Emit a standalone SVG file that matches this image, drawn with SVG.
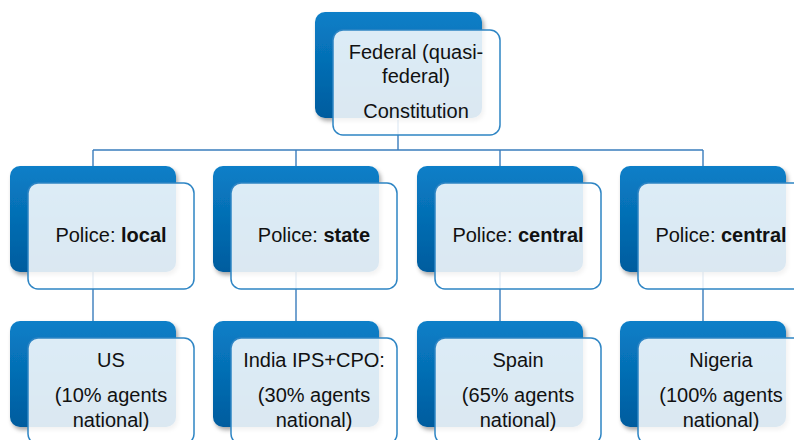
<svg xmlns="http://www.w3.org/2000/svg" width="794" height="440" viewBox="0 0 794 440">
<defs>
<linearGradient id="dg" x1="0" y1="0" x2="0" y2="1">
<stop offset="0" stop-color="#0a7fc8"/>
<stop offset="1" stop-color="#005c9e"/>
</linearGradient>
<filter id="sh" x="-10%" y="-10%" width="130%" height="130%">
<feDropShadow dx="2" dy="3" stdDeviation="2" flood-color="#000" flood-opacity="0.35"/>
</filter>
</defs>
<style>
.dark{fill:url(#dg);filter:url(#sh)}
.light{fill:#ffffff;fill-opacity:0.86;stroke:#2e85c4;stroke-width:1.5}
.conn{fill:none;stroke:#3a7dbd;stroke-width:1.4}
text{font-family:"Liberation Sans",Arial,sans-serif;font-size:20px;fill:#111;text-anchor:middle}
.b{font-weight:bold}
</style>
<rect width="794" height="440" fill="#fff"/>
<g id="connectors">
<path class="conn" d="M398,120 V150 M93,150 H703 M93,150 V321 M296,150 V321 M500,150 V321 M703,150 V321"/>
</g>
<g id="n-federal">
<rect class="dark" x="315" y="12" width="167" height="106" rx="10"/>
<rect class="light" x="333" y="30" width="167" height="105" rx="10"/>
<text x="416" y="59">Federal (quasi-</text>
<text x="416" y="83">federal)</text>
<text x="416" y="118">Constitution</text>
</g>
<g id="n-local">
<rect class="dark" x="10" y="166" width="166" height="106" rx="10"/>
<rect class="light" x="28" y="183" width="166" height="106" rx="10"/>
<text x="111" y="242">Police: <tspan class="b">local</tspan></text>
</g>
<g id="n-state">
<rect class="dark" x="213" y="166" width="166" height="106" rx="10"/>
<rect class="light" x="231" y="183" width="166" height="106" rx="10"/>
<text x="314" y="242">Police: <tspan class="b">state</tspan></text>
</g>
<g id="n-central1">
<rect class="dark" x="417" y="166" width="166" height="106" rx="10"/>
<rect class="light" x="435" y="183" width="166" height="106" rx="10"/>
<text x="518" y="242">Police: <tspan class="b">central</tspan></text>
</g>
<g id="n-central2">
<rect class="dark" x="620" y="166" width="166" height="106" rx="10"/>
<rect class="light" x="638" y="183" width="166" height="106" rx="10"/>
<text x="721" y="242">Police: <tspan class="b">central</tspan></text>
</g>
<g id="n-us">
<rect class="dark" x="10" y="321" width="166" height="106" rx="10"/>
<rect class="light" x="28" y="338" width="166" height="106" rx="10"/>
<text x="111" y="367">US</text>
<text x="111" y="402">(10% agents</text>
<text x="111" y="427">national)</text>
</g>
<g id="n-india">
<rect class="dark" x="213" y="321" width="166" height="106" rx="10"/>
<rect class="light" x="231" y="338" width="166" height="106" rx="10"/>
<text x="314" y="367">India IPS+CPO:</text>
<text x="314" y="402">(30% agents</text>
<text x="314" y="427">national)</text>
</g>
<g id="n-spain">
<rect class="dark" x="417" y="321" width="166" height="106" rx="10"/>
<rect class="light" x="435" y="338" width="166" height="106" rx="10"/>
<text x="518" y="367">Spain</text>
<text x="518" y="402">(65% agents</text>
<text x="518" y="427">national)</text>
</g>
<g id="n-nigeria">
<rect class="dark" x="620" y="321" width="166" height="106" rx="10"/>
<rect class="light" x="638" y="338" width="166" height="106" rx="10"/>
<text x="721" y="367">Nigeria</text>
<text x="721" y="402">(100% agents</text>
<text x="721" y="427">national)</text>
</g>
</svg>
